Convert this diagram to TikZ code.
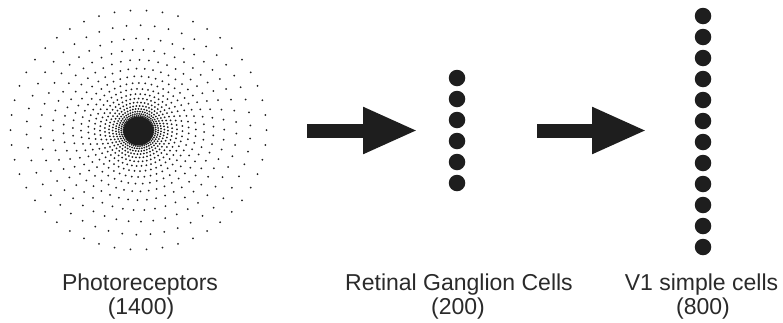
\documentclass[tikz,border=0pt]{standalone}
\usepackage{fontspec}
\setmainfont{Liberation Sans}
\usetikzlibrary{arrows.meta}
\definecolor{ink}{HTML}{1E1E1E}
\definecolor{txt}{HTML}{2A2A2A}
\begin{document}
\begin{tikzpicture}[x=1pt,y=-1pt,
  cell/.style={circle,fill=ink,minimum size=16.5pt,inner sep=0pt},
  flow/.style={draw=ink,line width=14pt,-{Triangle[length=55pt,width=43pt]}},
  lab/.style={font=\fontsize{23}{24}\selectfont,text=txt,inner sep=0pt,anchor=base}]
\useasboundingbox[fill=white] (0,0) rectangle (783,322);
% photoreceptor mosaic
\begin{scope}[shift={(138.5,130)}]
\foreach \k in {0,...,20}{
  \pgfmathsetmacro\r{128*0.875^\k}
  \pgfmathsetmacro\off{mod(\k,2)*3.6+\k*1.1}
  \foreach \j in {0,...,49}{
    \fill[ink] ({\off+\j*7.2}:{\r} and {\r*0.935}) circle (1.0);
  }
}
\fill[ink] (0,1) circle [x radius=15, y radius=14.5];
\end{scope}
% retinal ganglion cells
\foreach \i in {0,...,5}{
  \node[cell] (g\i) at (457,{78+21*\i}) {};
}
% V1 simple cells
\foreach \i in {0,...,11}{
  \node[cell] (v\i) at (703,{16+21*\i}) {};
}
% arrows
\coordinate (a1s) at (307,130.5);
\coordinate (a1e) at (418,130.5);
\coordinate (a2s) at (537,130.5);
\coordinate (a2e) at (647,130.5);
\draw[flow] (a1s) -- (a1e);
\draw[flow] (a2s) -- (a2e);
% labels
\node[lab] (pr1) at (140,290) {Photoreceptors};
\node[lab] (pr2) at (141,314) {(1400)};
\node[lab] (rg1) at (459,290) {Retinal Ganglion Cells};
\node[lab] (rg2) at (458,314) {(200)};
\node[lab] (v11) at (701.5,290) {V1 simple cells};
\node[lab] (v12) at (703,314) {(800)};
\end{tikzpicture}
\end{document}
